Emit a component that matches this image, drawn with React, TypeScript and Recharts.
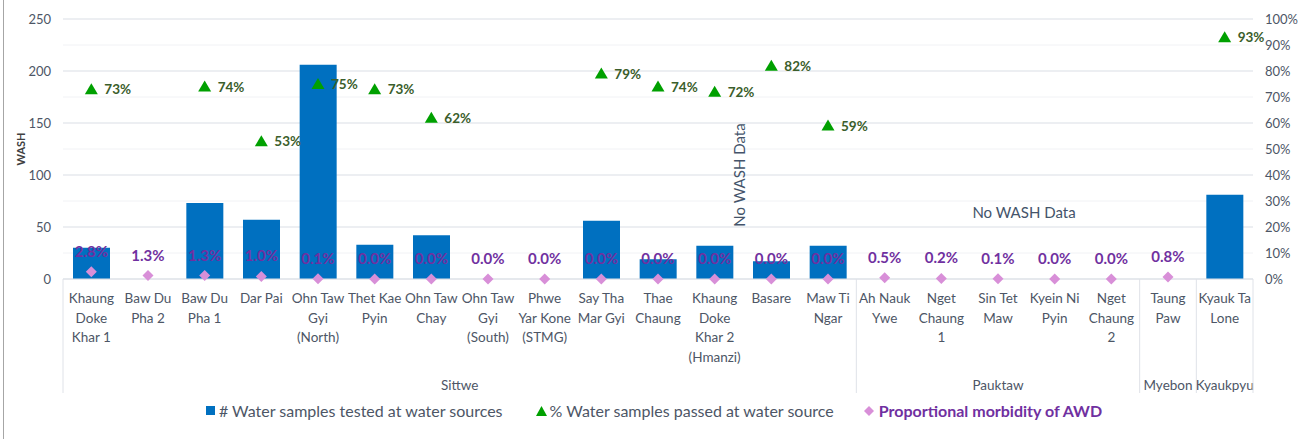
import { ComposedChart, Bar, Scatter, XAxis, YAxis, CartesianGrid } from 'recharts'

// sites, '|' marks a line break in the axis label
const sites = [
  'Khaung|Doke|Khar 1', 'Baw Du|Pha 2', 'Baw Du|Pha 1', 'Dar Pai', 'Ohn Taw|Gyi|(North)',
  'Thet Kae|Pyin', 'Ohn Taw|Chay', 'Ohn Taw|Gyi|(South)', 'Phwe|Yar Kone|(STMG)', 'Say Tha|Mar Gyi',
  'Thae|Chaung', 'Khaung|Doke|Khar 2|(Hmanzi)', 'Basare', 'Maw Ti|Ngar',
  'Ah Nauk|Ywe', 'Nget|Chaung|1', 'Sin Tet|Maw', 'Kyein Ni|Pyin', 'Nget|Chaung|2',
  'Taung|Paw', 'Kyauk Ta|Lone',
]
const townships = ['Sittwe', 'Pauktaw', 'Myebon', 'Kyaukpyu']
const townshipSizes = [14, 5, 1, 1]

const samplesTested = [30, null, 73, 57, 206, 33, 42, null, null, 56, 19, 32, 17, 32, null, null, null, null, null, null, 81]
const samplesPassed = [73, null, 74, 53, 75, 73, 62, null, null, 79, 74, 72, 82, 59, null, null, null, null, null, null, 93]
const awdMorbidity = [2.8, 1.3, 1.3, 1.0, 0.1, 0.0, 0.0, 0.0, 0.0, 0.0, 0.0, 0.0, 0.0, 0.0, 0.5, 0.2, 0.1, 0.0, 0.0, 0.8, null]

const leftTicks = [0, 50, 100, 150, 200, 250]
const rightTicks = [0, 10, 20, 30, 40, 50, 60, 70, 80, 90, 100]
const minorLines = Array.from({ length: 51 }, (_, i) => i * 5)

const data = sites.map((site, i) => ({
  site,
  tested: samplesTested[i],
  passed: samplesPassed[i],
  awd: awdMorbidity[i],
}))

const W = 1308
const H = 439
const LEFT = 63
const RIGHT = 55
const BAND = (W - LEFT - RIGHT) / sites.length
const TXT = '#4D5666'
const FONT = 'Lato, "Open Sans", sans-serif'

const groupStarts = townshipSizes.map((_, g) => townshipSizes.slice(0, g).reduce((a, b) => a + b, 0))

function SiteTick({ x, y, payload }: any) {
  const i = payload.index
  const half = BAND / 2
  const lines = String(payload.value).split('|')
  const g = groupStarts.indexOf(i)
  return (
    <g>
      <text x={x} y={y + 24} textAnchor="middle" fill={TXT} fontSize={13.5} fontFamily={FONT}>
        {lines.map((l, k) => (
          <tspan key={k} x={x} dy={k === 0 ? 0 : 19.5}>{l}</tspan>
        ))}
      </text>
      {g >= 0 && <line x1={x - half} x2={x - half} y1={y} y2={y + 114} stroke="#dfe2e8" />}
      {g >= 0 && (
        <text x={x - half + townshipSizes[g] * half} y={y + 111} textAnchor="middle" fill={TXT} fontSize={13.5} fontFamily={FONT}>
          {townships[g]}
        </text>
      )}
      {i === sites.length - 1 && <line x1={x + half} x2={x + half} y1={y} y2={y + 114} stroke="#dfe2e8" />}
    </g>
  )
}

const Triangle = (p: any) => {
  if (p.payload.passed == null || p.cy == null) return <g />
  const { cx, cy } = p
  return (
    <g>
      <polygon points={`${cx},${cy - 6} ${cx + 6.5},${cy + 5} ${cx - 6.5},${cy + 5}`} fill="#00A000" />
      <text x={cx + 13} y={cy + 5} fill="#3B5E2B" fontSize={13.5} fontWeight={700} fontFamily={FONT}>
        {p.payload.passed}%
      </text>
    </g>
  )
}

const Diamond = (p: any) => {
  if (p.payload.awd == null || p.cy == null) return <g />
  const { cx, cy } = p
  return (
    <g>
      <text x={cx} y={cy - 15} textAnchor="middle" fill="#7030A0" fontSize={15} fontWeight={700} fontFamily={FONT}>
        {p.payload.awd.toFixed(1)}%
      </text>
      <polygon points={`${cx},${cy - 5.5} ${cx + 5.5},${cy} ${cx},${cy + 5.5} ${cx - 5.5},${cy}`} fill="#D88FD8" />
    </g>
  )
}

const WashLabel = ({ viewBox }: any) => {
  const cx = viewBox.x + 20
  const cy = viewBox.y + viewBox.height / 2
  return (
    <text x={cx} y={cy} transform={`rotate(-90 ${cx} ${cy})`} textAnchor="middle" dominantBaseline="central"
      fill="#404040" fontSize={11} fontWeight={700} fontFamily={FONT}>WASH</text>
  )
}

export default function App() {
  const axisTick = { fill: TXT, fontSize: 13, fontFamily: FONT }
  return (
    <div style={{ position: 'absolute', left: 0, top: 0, width: W, height: H, background: '#fff', fontFamily: FONT }}>
      <div style={{ position: 'absolute', left: 3, top: 0, width: 1, height: H, background: '#a6a6a6' }} />
      <ComposedChart width={W} height={H} data={data} margin={{ top: 19, right: 0, bottom: 40, left: 0 }} barGap={0}>
        <CartesianGrid yAxisId="left" horizontalValues={minorLines} vertical={false} stroke="#f1f2f5" />
        <CartesianGrid yAxisId="left" horizontalValues={leftTicks} vertical={false} stroke="#e1e4ea" />
        <XAxis dataKey="site" interval={0} height={120} tickSize={0} tickMargin={0} tick={<SiteTick />}
          axisLine={{ stroke: '#dfe2e8' }} tickLine={false} />
        <YAxis yAxisId="left" width={LEFT} domain={[0, 250]} ticks={leftTicks} tick={axisTick}
          axisLine={false} tickLine={false} tickSize={0} tickMargin={12} label={<WashLabel />} />
        <YAxis yAxisId="right" orientation="right" width={RIGHT} domain={[0, 100]} ticks={rightTicks}
          tickFormatter={(v: number) => `${v}%`} tick={{ ...axisTick, textAnchor: 'start' }}
          axisLine={false} tickLine={false} tickSize={0} tickMargin={12} />
        <Bar yAxisId="left" dataKey="tested" fill="#0070C0" barSize={37} isAnimationActive={false} />
        <Scatter yAxisId="right" dataKey="passed" shape={Triangle} isAnimationActive={false} />
        <Scatter yAxisId="right" dataKey="awd" shape={Diamond} isAnimationActive={false} />
      </ComposedChart>

      {/* text boxes over the plot */}
      <div style={{ position: 'absolute', left: 739, top: 175, transform: 'translate(-50%, -50%) rotate(-90deg)',
        whiteSpace: 'nowrap', fontSize: 15, color: '#44546A' }}>No WASH Data</div>
      <div style={{ position: 'absolute', left: 1024, top: 212, transform: 'translate(-50%, -50%)',
        whiteSpace: 'nowrap', fontSize: 15, color: '#44546A' }}>No WASH Data</div>

      {/* legend */}
      <div style={{ position: 'absolute', left: 0, top: 401, width: W, display: 'flex', justifyContent: 'center',
        alignItems: 'center', fontSize: 16, color: TXT, whiteSpace: 'nowrap' }}>
        <span style={{ display: 'inline-block', width: 9, height: 9, background: '#0070C0', marginRight: 4 }} />
        <span># Water samples tested at water sources</span>
        <svg width={11} height={10} style={{ marginLeft: 33, marginRight: 3 }}>
          <polygon points="5.5,0 11,10 0,10" fill="#00A000" />
        </svg>
        <span>% Water samples passed at water source</span>
        <svg width={10} height={10} style={{ marginLeft: 30, marginRight: 5 }}>
          <polygon points="5,0 10,5 5,10 0,5" fill="#D88FD8" />
        </svg>
        <span style={{ color: '#7030A0', fontWeight: 700 }}>Proportional morbidity of AWD</span>
      </div>
    </div>
  )
}
